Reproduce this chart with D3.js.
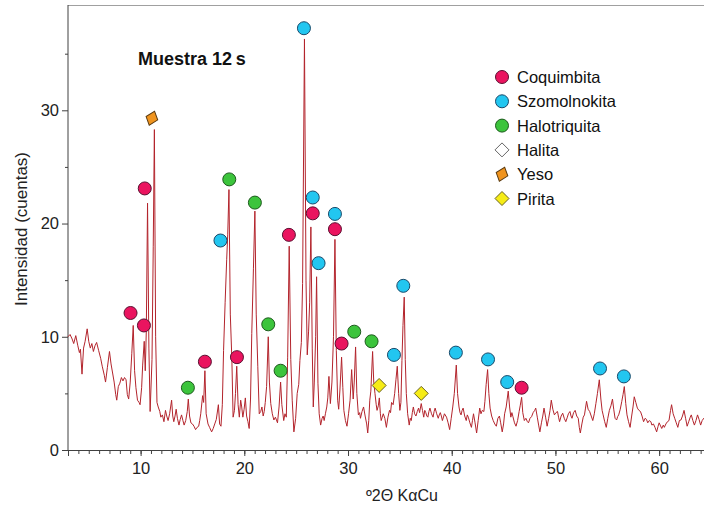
<!DOCTYPE html>
<html>
<head>
<meta charset="utf-8">
<script src="https://cdn.jsdelivr.net/npm/d3@7"></script>
<style>
  html, body { margin: 0; padding: 0; background: #fff; }
  svg { display: block; font-family: "Liberation Sans", Arial, sans-serif; }
</style>
</head>
<body>
<svg id="chart" width="704" height="509"></svg>
<script>
// Diffractogram: [2θ (degrees), intensity (counts)]
const pattern = [
  [3.0,10.0],[3.2,10.2],[3.4,9.8],[3.55,9.4],[3.75,10.1],[3.95,9.2],[4.1,8.6],[4.2,8.9],[4.35,6.7],[4.5,9.0],
  [4.65,9.6],[4.85,10.7],[5.0,9.6],[5.15,9.0],[5.3,9.4],[5.45,8.7],[5.6,9.2],[5.76,9.5],[5.95,8.8],[6.15,8.1],
  [6.3,7.4],[6.5,6.6],[6.62,6.0],[6.8,7.3],[7.0,8.7],[7.15,7.6],[7.3,6.8],[7.45,6.0],[7.6,4.9],[7.7,4.4],
  [7.85,5.6],[8.0,5.9],[8.15,6.4],[8.3,6.1],[8.45,6.4],[8.6,6.2],[8.72,4.9],[8.85,4.5],[9.0,6.0],[9.15,8.5],
  [9.29,11.0],[9.42,7.0],[9.55,5.5],[9.7,4.4],[9.85,4.2],[9.95,4.0],[10.1,5.5],[10.2,7.5],[10.35,9.6],[10.45,7.0],
  [10.55,10.5],[10.67,21.8],[10.8,9.0],[10.92,3.4],[11.1,8.0],[11.22,18.0],[11.33,28.3],[11.45,10.0],[11.58,4.2],[11.7,3.8],
  [11.85,3.4],[11.95,2.9],[12.1,3.1],[12.25,2.5],[12.4,3.5],[12.52,3.0],[12.65,2.6],[12.8,3.2],[12.99,4.4],[13.1,3.0],
  [13.2,2.5],[13.32,3.0],[13.43,3.6],[13.55,2.8],[13.7,2.2],[13.82,2.7],[13.95,3.1],[14.08,2.6],[14.2,2.2],[14.35,2.6],
  [14.5,3.4],[14.6,4.5],[14.72,3.0],[14.85,2.4],[15.0,2.3],[15.15,2.1],[15.3,1.8],[15.45,2.0],[15.6,2.1],[15.7,2.6],
  [15.8,3.2],[15.98,4.8],[16.08,4.2],[16.2,7.0],[16.32,3.2],[16.5,2.3],[16.65,2.0],[16.85,1.6],[17.0,1.9],[17.15,2.3],
  [17.3,2.7],[17.5,4.0],[17.62,2.3],[17.75,2.1],[17.88,4.0],[18.0,8.8],[18.15,13.0],[18.3,16.8],[18.4,19.0],[18.52,23.0],
  [18.65,12.0],[18.8,8.0],[18.92,2.9],[19.05,3.5],[19.15,5.0],[19.27,7.4],[19.4,4.0],[19.52,2.9],[19.65,4.4],[19.75,3.8],
  [19.86,2.9],[19.98,3.6],[20.1,4.6],[20.22,3.0],[20.35,2.5],[20.47,1.9],[20.6,4.5],[20.72,10.3],[20.88,16.0],[21.02,21.1],
  [21.15,12.0],[21.3,7.4],[21.44,3.2],[21.58,3.4],[21.7,3.8],[21.82,3.0],[21.92,3.4],[22.02,4.2],[22.15,5.6],[22.31,10.0],
  [22.42,6.0],[22.55,4.1],[22.7,3.2],[22.85,2.65],[23.0,2.9],[23.2,2.4],[23.35,3.8],[23.5,6.0],[23.62,4.0],[23.8,2.6],
  [23.92,3.2],[24.05,2.9],[24.18,8.2],[24.33,18.0],[24.48,8.0],[24.62,4.4],[24.78,1.6],[24.95,2.8],[25.1,5.0],[25.25,5.8],
  [25.36,7.9],[25.5,9.5],[25.62,14.7],[25.8,36.3],[25.95,15.0],[26.07,8.4],[26.2,10.5],[26.3,13.0],[26.42,19.7],[26.55,9.0],
  [26.65,3.8],[26.75,6.0],[26.88,10.0],[26.97,15.3],[27.1,5.9],[27.22,3.2],[27.36,2.2],[27.5,2.8],[27.6,3.0],[27.7,2.6],
  [27.82,3.2],[27.95,3.8],[28.05,4.6],[28.16,6.5],[28.3,4.1],[28.45,6.0],[28.6,10.0],[28.74,18.6],[28.87,8.8],[29.0,4.4],
  [29.1,3.6],[29.22,5.3],[29.38,8.2],[29.5,5.5],[29.6,3.5],[29.75,2.6],[29.9,2.1],[30.05,3.2],[30.2,4.4],[30.35,7.1],
  [30.5,4.5],[30.6,6.0],[30.73,9.1],[30.85,5.0],[31.0,3.1],[31.12,3.3],[31.2,2.8],[31.35,3.4],[31.5,3.8],[31.65,3.0],
  [31.8,2.3],[31.9,1.5],[32.0,2.6],[32.1,4.4],[32.2,5.2],[32.37,8.7],[32.48,6.0],[32.6,5.0],[32.72,4.0],[32.8,3.5],
  [32.92,3.9],[33.02,4.6],[33.12,3.2],[33.2,2.6],[33.3,2.9],[33.4,3.2],[33.55,2.8],[33.7,2.0],[33.85,2.9],[34.0,3.5],
  [34.1,3.3],[34.2,4.2],[34.35,4.0],[34.5,5.0],[34.62,6.2],[34.75,7.4],[34.88,5.0],[35.0,3.5],[35.1,4.2],[35.2,7.9],
  [35.3,11.0],[35.42,13.5],[35.52,8.0],[35.62,5.0],[35.75,3.2],[35.9,2.2],[36.0,2.8],[36.1,2.6],[36.2,3.3],[36.3,3.8],
  [36.42,3.2],[36.55,3.0],[36.68,3.4],[36.8,3.7],[36.9,3.3],[37.06,4.1],[37.18,3.5],[37.3,2.9],[37.4,3.5],[37.5,3.3],
  [37.6,3.0],[37.7,2.9],[37.8,3.4],[37.9,3.7],[38.05,3.2],[38.2,2.9],[38.3,3.4],[38.4,3.7],[38.55,3.2],[38.7,2.8],
  [38.8,3.1],[38.9,3.3],[39.0,3.0],[39.1,2.6],[39.3,3.2],[39.5,2.9],[39.65,2.4],[39.8,1.8],[39.95,2.8],[40.1,3.8],
  [40.25,5.0],[40.44,7.5],[40.56,5.0],[40.7,3.8],[40.8,3.3],[40.9,3.1],[41.0,3.5],[41.1,3.7],[41.25,3.0],[41.4,2.6],
  [41.5,3.1],[41.6,2.9],[41.75,2.4],[41.9,2.0],[42.0,2.6],[42.1,3.2],[42.25,2.4],[42.4,1.5],[42.55,2.6],[42.7,3.7],
  [42.82,3.2],[42.95,3.5],[43.1,3.4],[43.2,4.3],[43.32,5.8],[43.46,7.1],[43.58,5.0],[43.7,3.7],[43.85,3.0],[44.0,2.6],
  [44.15,2.3],[44.3,2.1],[44.45,2.8],[44.6,3.0],[44.72,2.4],[44.87,1.6],[45.0,2.3],[45.1,3.2],[45.25,3.8],[45.45,5.2],
  [45.58,3.8],[45.7,2.9],[45.8,3.3],[45.9,2.95],[46.05,2.4],[46.2,2.1],[46.35,2.6],[46.5,3.4],[46.6,3.9],[46.74,4.65],
  [46.85,3.3],[47.0,2.6],[47.15,2.8],[47.3,2.5],[47.4,2.4],[47.55,2.8],[47.7,2.95],[47.85,3.3],[48.0,3.5],[48.1,3.7],
  [48.25,2.9],[48.38,2.2],[48.5,1.6],[48.65,2.4],[48.78,3.0],[48.9,3.7],[49.05,2.9],[49.2,2.1],[49.35,2.8],[49.48,3.5],
  [49.6,4.4],[49.75,3.6],[49.9,3.1],[50.05,3.3],[50.2,3.4],[50.3,2.9],[50.4,2.5],[50.55,3.0],[50.7,3.25],[50.85,2.8],
  [51.0,2.5],[51.15,2.9],[51.25,3.2],[51.4,3.4],[51.5,3.0],[51.6,2.8],[51.75,3.3],[51.9,3.5],[52.05,3.0],[52.2,2.8],
  [52.3,2.0],[52.4,1.5],[52.55,2.3],[52.68,2.9],[52.8,3.1],[52.9,3.7],[53.0,4.3],[53.15,3.6],[53.3,3.4],[53.45,3.0],
  [53.6,2.6],[53.75,3.2],[53.9,4.1],[54.05,5.0],[54.23,6.2],[54.38,4.5],[54.5,3.5],[54.6,3.1],[54.75,2.5],[54.9,2.0],
  [55.05,2.8],[55.2,3.5],[55.35,3.9],[55.5,4.5],[55.62,3.6],[55.75,2.8],[55.9,2.65],[56.0,2.95],[56.1,3.1],[56.25,3.6],
  [56.4,4.3],[56.52,4.9],[56.64,5.6],[56.78,4.1],[56.9,3.1],[57.05,2.5],[57.2,2.0],[57.35,3.0],[57.48,3.8],[57.6,4.7],
  [57.75,4.2],[57.9,3.7],[58.05,3.5],[58.2,3.4],[58.35,3.0],[58.5,2.5],[58.65,2.8],[58.78,2.7],[58.9,2.4],[59.05,2.6],
  [59.2,2.5],[59.3,2.2],[59.45,2.3],[59.6,2.0],[59.76,1.6],[59.9,2.1],[60.0,2.4],[60.1,2.2],[60.25,1.9],[60.4,2.2],
  [60.5,2.0],[60.65,2.3],[60.8,2.5],[60.95,2.6],[61.1,3.5],[61.2,4.0],[61.35,3.2],[61.5,2.8],[61.65,2.4],[61.8,2.0],
  [61.95,2.6],[62.1,2.65],[62.25,3.0],[62.4,3.5],[62.55,2.8],[62.7,2.1],[62.85,2.5],[63.0,2.9],[63.1,3.1],[63.25,2.6],
  [63.4,2.2],[63.55,2.6],[63.7,3.1],[63.85,2.7],[64.0,2.2],[64.15,2.6],[64.3,2.8],[64.5,2.5]
];

// Phase identification marks: [2θ, intensity at which the symbol sits]
const coquimbita = [[9.03,12.1],[10.4,23.1],[10.32,11.0],[16.2,7.8],[19.29,8.2],[24.3,19.0],[26.6,20.9],[28.74,19.5],[29.38,9.4],[46.74,5.5]];
const szomolnokita = [[17.7,18.5],[25.75,37.25],[26.6,22.3],[27.16,16.5],[28.74,20.85],[34.43,8.4],[35.33,14.5],[40.4,8.6],[43.5,8.0],[45.35,6.0],[54.3,7.2],[56.6,6.5]];
const halotriquita = [[14.56,5.5],[18.55,23.9],[21.02,21.85],[22.31,11.1],[23.5,7.0],[30.6,10.45],[32.27,9.6]];
const halita = [];
const yeso = [[11.09,29.3]];
const pirita = [[33.0,5.7],[37.06,5.0]];

const phaseNames = ["Coquimbita","Szomolnokita","Halotriquita","Halita","Yeso","Pirita"];

const xMajorTicks = [10,20,30,40,50,60];
const yMajorTicks = [0,10,20,30];

const chartTitle = "Muestra 12\u2009s";
const xTitle = "\u00BA2\u0398 K\u03B1Cu";
const yTitle = "Intensidad (cuentas)";

(function () {
  const svg = d3.select("#chart");
  const mLeft = 68, mTop = 5, mBottom = 450, mRight = 711;

  const x = d3.scaleLinear().domain([3, 65]).range([mLeft, mRight]);
  const y = d3.scaleLinear().domain([0, 39.3]).range([mBottom, mTop]);

  const phases = [
    { data: coquimbita,   shape: "circle",  fill: "#ea145f", stroke: "#5a1030" },
    { data: szomolnokita, shape: "circle",  fill: "#22c6f0", stroke: "#1a4a6a" },
    { data: halotriquita, shape: "circle",  fill: "#3cc43c", stroke: "#1d5a1d" },
    { data: halita,       shape: "diamond", fill: "#ffffff", stroke: "#666666" },
    { data: yeso,         shape: "rhomb",   fill: "#f0941e", stroke: "#5a3a10" },
    { data: pirita,       shape: "diamond", fill: "#f6ec16", stroke: "#6a6220" }
  ];

  function drawSymbol(g, shape, fill, stroke) {
    if (shape === "circle") {
      g.append("circle").attr("r", 6.5).attr("fill", fill).attr("stroke", stroke).attr("stroke-width", 1);
    } else if (shape === "diamond") {
      g.append("path").attr("d", "M0,-7L7,0L0,7L-7,0Z").attr("fill", fill).attr("stroke", stroke).attr("stroke-width", 1);
    } else {
      g.append("rect").attr("x", -5).attr("y", -4.5).attr("width", 10).attr("height", 9)
        .attr("transform", "rotate(-32) skewX(-12)")
        .attr("fill", fill).attr("stroke", stroke).attr("stroke-width", 1);
    }
  }

  // top frame line
  svg.append("line").attr("x1", mLeft).attr("x2", 704).attr("y1", mTop + 0.5).attr("y2", mTop + 0.5)
    .attr("stroke", "#a0a0a0").attr("stroke-width", 1);

  // x axis
  const gxMinor = svg.append("g").attr("transform", `translate(0,${mBottom})`)
    .call(d3.axisBottom(x).tickValues(d3.range(3, 65, 1)).tickSize(4).tickFormat(""));
  const gx = svg.append("g").attr("transform", `translate(0,${mBottom})`)
    .call(d3.axisBottom(x).tickValues(xMajorTicks).tickSize(6).tickPadding(6));
  [gxMinor, gx].forEach(g => {
    g.select(".domain").attr("stroke", "#404040");
    g.selectAll(".tick line").attr("stroke", "#404040");
  });
  gxMinor.select(".domain").remove();
  gx.selectAll(".tick text").attr("font-size", 16.5).attr("fill", "#222")
    .attr("font-family", "Liberation Sans, Arial, sans-serif");

  // y axis
  const gyMinor = svg.append("g").attr("transform", `translate(${mLeft},0)`)
    .call(d3.axisLeft(y).tickValues([5, 15, 25, 35]).tickSize(3).tickFormat(""));
  const gy = svg.append("g").attr("transform", `translate(${mLeft},0)`)
    .call(d3.axisLeft(y).tickValues(yMajorTicks).tickSize(6).tickPadding(3));
  [gyMinor, gy].forEach(g => {
    g.select(".domain").attr("stroke", "#404040");
    g.selectAll(".tick line").attr("stroke", "#404040");
  });
  gyMinor.select(".domain").remove();
  gy.select(".domain").attr("d", `M0,${mTop}V${mBottom}`);
  gy.selectAll(".tick text").attr("font-size", 16.5).attr("fill", "#222")
    .attr("font-family", "Liberation Sans, Arial, sans-serif");

  // axis titles
  svg.append("text").attr("x", 402).attr("y", 501).attr("text-anchor", "middle")
    .attr("font-size", 16).attr("fill", "#222").text(xTitle);
  svg.append("text").attr("transform", "translate(27,229) rotate(-90)").attr("text-anchor", "middle")
    .attr("font-size", 17).attr("fill", "#222").text(yTitle);

  // title
  svg.append("text").attr("x", 138).attr("y", 65).attr("font-size", 18).attr("font-weight", "bold")
    .attr("fill", "#111").text(chartTitle);

  // diffraction trace
  const line = d3.line().x(d => x(d[0])).y(d => y(d[1]));
  svg.append("path").datum(pattern).attr("d", line)
    .attr("fill", "none").attr("stroke", "#b3242c").attr("stroke-width", 1).attr("stroke-linejoin", "round");

  // phase marks
  phases.forEach(p => {
    p.data.forEach(d => {
      const g = svg.append("g").attr("transform", `translate(${x(d[0])},${y(d[1])})`);
      drawSymbol(g, p.shape, p.fill, p.stroke);
    });
  });

  // legend
  const legend = svg.append("g").attr("transform", "translate(502,77)");
  phases.forEach((p, i) => {
    const row = legend.append("g").attr("transform", `translate(0,${i * 24.3})`);
    drawSymbol(row, p.shape, p.fill, p.stroke);
    row.append("text").attr("x", 15).attr("y", 6).attr("font-size", 16.5).attr("fill", "#111").text(phaseNames[i]);
  });
})();
</script>
</body>
</html>
